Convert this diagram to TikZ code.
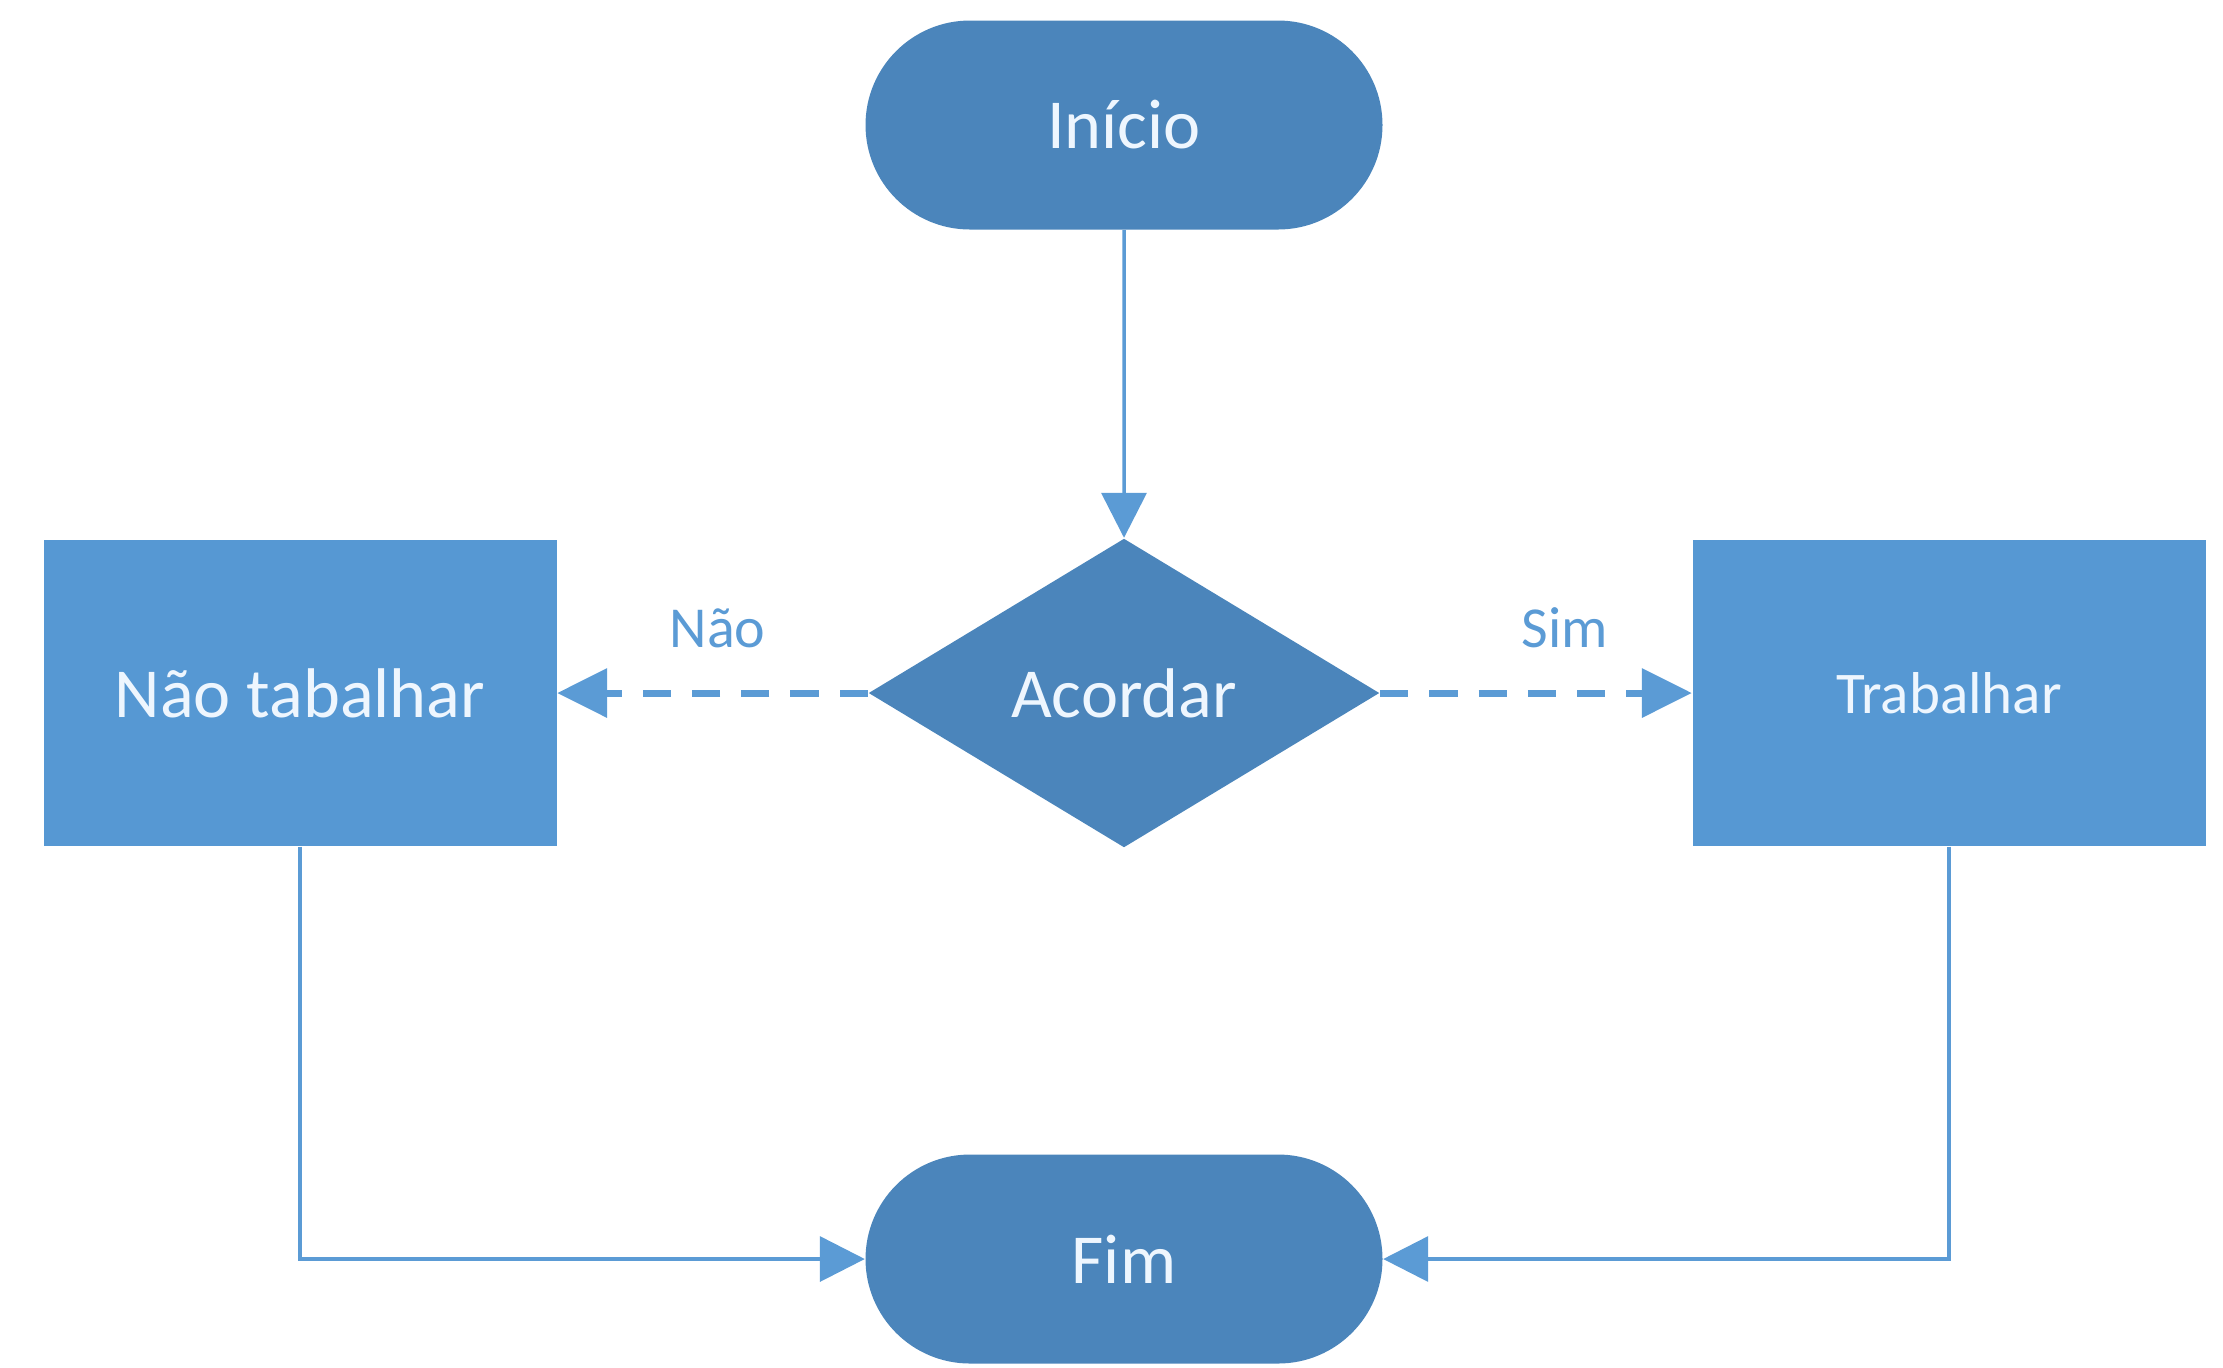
\documentclass[tikz,border=0pt]{standalone}
\usepackage{fontspec}
\setmainfont{Carlito}
\usepackage{xcolor}
\usepackage{tikz}
\usetikzlibrary{
    arrows.meta,
    positioning,
    shapes.geometric,
    shapes.misc
}
\definecolor{termblue}{HTML}{4B85BB}
\definecolor{boxblue}{HTML}{5698D3}
\definecolor{lineblue}{HTML}{5B9BD5}
\definecolor{paletext}{HTML}{EEF6FE}
\tikzset{
    term/.style={rounded rectangle, fill=termblue, text=paletext,
        minimum width=5.17cm, minimum height=2.09cm, inner sep=0pt,
        font=\fontsize{20}{24}\selectfont},
    decision/.style={diamond, aspect=1.65, fill=termblue, text=paletext,
        minimum width=5.11cm, minimum height=3.09cm, inner sep=0pt,
        font=\fontsize{20}{24}\selectfont},
    process/.style={rectangle, fill=boxblue, text=paletext,
        minimum width=5.13cm, minimum height=3.06cm, inner sep=0pt},
    flowline/.style={draw=lineblue, line width=1pt,
        -{Triangle[length=0.45cm, width=0.45cm]}},
    dashline/.style={draw=lineblue, line width=2pt,
        dash pattern=on 8pt off 6pt,
        -{Triangle[length=0.5cm, width=0.48cm]}},
    choice/.style={text=lineblue, font=\fontsize{16.5}{20}\selectfont}
}
\begin{document}
\begin{tikzpicture}
    \useasboundingbox (0,0) rectangle (22.23,-13.67);

    \node[term] (inicio) at (11.24,-1.25) {Início};
    \node[decision] (acordar) at (11.24,-6.93) {Acordar};
    \node[process, font=\fontsize{20}{24}\selectfont] (naotab) at (3.00,-6.93) {Não tabalhar};
    \node[process, font=\fontsize{16.8}{20}\selectfont] (trab) at (19.49,-6.93) {Trabalhar};
    \node[term] (fim) at (11.24,-12.59) {Fim};

    \draw[flowline] (inicio) -- (acordar);

    \draw[dashline] (acordar.west) -- node[choice, above=0.3cm, xshift=0.05cm]{Não} (naotab.east);
    \draw[dashline] (acordar.east) -- node[choice, above=0.3cm, xshift=0.29cm]{Sim} (trab.west);

    \draw[flowline] (naotab.south) |- (fim.west);
    \draw[flowline] (trab.south) |- (fim.east);
\end{tikzpicture}
\end{document}
